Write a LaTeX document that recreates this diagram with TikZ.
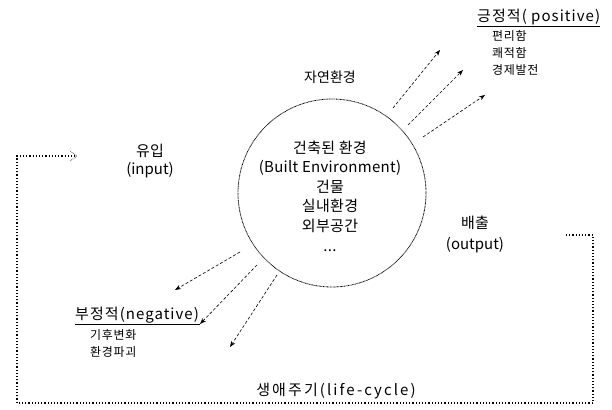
\documentclass[tikz,border=0pt]{standalone}
\usepackage{fontspec}
\setmainfont{Noto Sans CJK KR}
\usetikzlibrary{arrows.meta}
\begin{document}
\begin{tikzpicture}[x=1pt,y=-1pt,
  lbl/.style={font=\fontsize{15}{20}\selectfont, inner sep=0pt, align=center},
  sub/.style={font=\fontsize{12}{14}\selectfont\addfontfeatures{LetterSpace=6}, inner sep=0pt, anchor=west},
  darr/.style={dash pattern=on 3pt off 2pt, -{Stealth[length=6pt,width=4.5pt]}, line width=0.6pt},
  dotloop/.style={dotted, line width=1.2pt},
]
\useasboundingbox (0,0) rectangle (612,409);
% central circle
\node[circle, draw, dash pattern=on 0.8pt off 0.6pt, line width=0.8pt, minimum size=188pt] (env) at (332,193) {};
\node[lbl, font=\fontsize{15}{19.6}\selectfont\addfontfeatures{LetterSpace=2}] (envtxt) at (330,196)
  {건축된 환경\\(Built Environment)\\건물\\실내환경\\외부공간\\...};
% labels
\node[lbl, font=\fontsize{14}{18}\selectfont] (nature) at (330,77) {자연환경};
\node[lbl, font=\fontsize{15}{18}\selectfont] (inp) at (150,161) {유입\\(input)};
\node[lbl, font=\fontsize{15}{21}\selectfont] (outp) at (475,234) {배출\\(output)};
\node[lbl, font=\fontsize{15}{18}\selectfont\addfontfeatures{LetterSpace=14}] (life) at (336,391) {생애주기(life-cycle)};
% positive
\node[lbl, anchor=west, font=\fontsize{15}{18}\selectfont\addfontfeatures{LetterSpace=7}] (pos) at (477,17) {긍정적( positive)};
\draw[line width=0.7pt] ([yshift=-1pt]pos.south west) -- ([yshift=-1pt]pos.south east);
\node[sub] (p1) at (492,36) {편리함};
\node[sub] (p2) at (492,53) {쾌적함};
\node[sub] (p3) at (492,70) {경제발전};
% negative
\node[lbl, anchor=west, font=\fontsize{15}{18}\selectfont\addfontfeatures{LetterSpace=7}] (neg) at (75,315) {부정적(negative)};
\coordinate (n2) at (200,324);
\draw[line width=0.7pt] (neg.south west |- n2) -- (n2);
\node[sub] (q1) at (90,335) {기후변화};
\node[sub] (q2) at (90,352) {환경파괴};
% arrows out of circle
\coordinate (a1s) at (393,108); \coordinate (a1e) at (440,50);
\coordinate (a2s) at (408,125); \coordinate (a2e) at (463,70);
\coordinate (a3s) at (423,137); \coordinate (a3e) at (485,95);
\draw[darr] (a1s) -- (a1e);
\draw[darr] (a2s) -- (a2e);
\draw[darr] (a3s) -- (a3e);
\coordinate (b1s) at (240,252); \coordinate (b1e) at (175,290);
\coordinate (b2s) at (257,265);
\coordinate (b3s) at (277,275); \coordinate (b3e) at (230,347);
\draw[darr] (b1s) -- (b1e);
\draw[darr] (b2s) -- (n2);
\draw[darr] (b3s) -- (b3e);
% life-cycle loop
\coordinate (l0) at (566,235);
\coordinate (l1) at (593,235);
\coordinate (l2) at (593,403);
\coordinate (l3) at (17,403);
\coordinate (l4) at (17,156);
\coordinate (l5) at (77,156);
\draw[dotloop] (l0) -- (l1) -- (l2) -- (l3) -- (l4) -- (l5);
\draw[line width=0.6pt, densely dotted] ([xshift=-7pt,yshift=-5pt]l5) -- (l5) -- ([xshift=-7pt,yshift=5pt]l5);
\end{tikzpicture}
\end{document}
